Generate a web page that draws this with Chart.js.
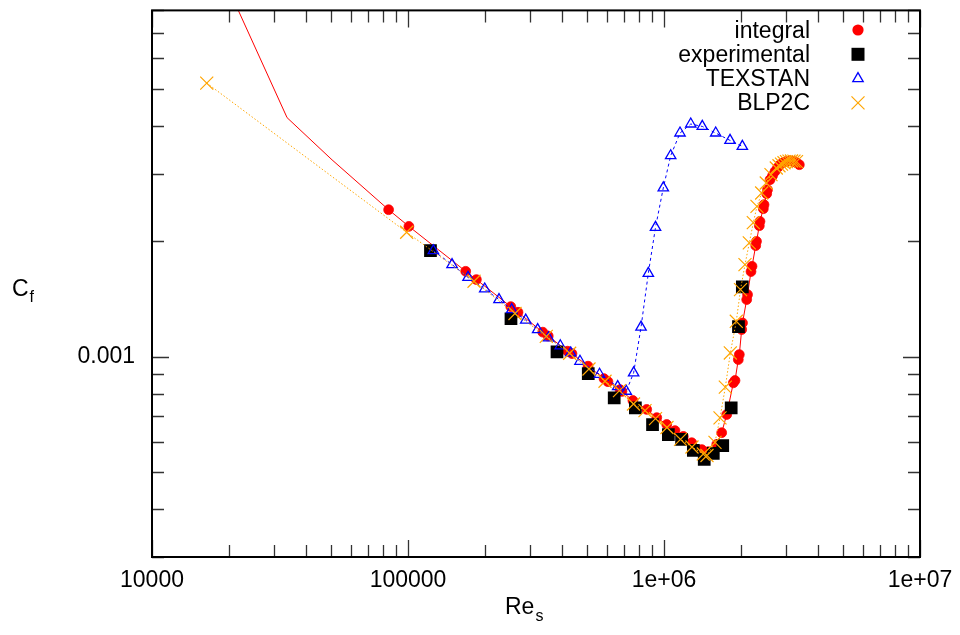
<!DOCTYPE html>
<html>
<head>
<meta charset="utf-8">
<title>Skin friction coefficient vs. Re_s</title>
<script src="https://cdn.jsdelivr.net/npm/chart.js@4.4.1/dist/chart.umd.min.js"></script>
<style>
  html, body { margin: 0; padding: 0; background: #ffffff; }
  #wrap { width: 960px; height: 635px; }
  canvas { display: block; }
</style>
</head>
<body>
<div id="wrap"><canvas id="chart" width="960" height="635"></canvas></div>
<script>
// ---- axis ranges and labelled ticks ----
const xMin = 1e4, xMax = 1e7;
const yMin = 0.0003, yMax = 0.008;
const xTickValues = [1e4, 1e5, 1e6, 1e7];
const xTickLabels = ['10000', '100000', '1e+06', '1e+07'];
const yTickValues = [0.001];
const yTickLabels = ['0.001'];

// ---- series names (legend order) ----
const seriesNames = ['integral', 'experimental', 'TEXSTAN', 'BLP2C'];

// ---- integral method: leading curve vertices (line only) ----
const integralLeadRe = [16400, 33700, 50500];
const integralLeadCf = [0.0121, 0.0042, 0.00326];

// ---- integral method: marked points ----
const integralRe = [84000, 100800, 168000, 185000, 252000, 269000, 336000, 353000, 420000, 437000,
  505000, 583000, 604000, 673000, 685000, 756000, 856000, 937000, 1025000, 1104000,
  1190000, 1283000, 1404000, 1490000, 1607000, 1680000, 1758000, 1866000, 1894000, 1951000,
  1969000, 2011000, 2026000, 2104000, 2120000, 2187000, 2207000, 2282000, 2298000, 2357000,
  2371000, 2443000, 2459000, 2519000, 2537000, 2595000, 2654000, 2714000, 2776000, 2839000,
  2916000, 3016000, 3106000, 3200000, 3293000, 3378000];
const integralCf = [0.002416, 0.002186, 0.001669, 0.001588, 0.00135, 0.001305, 0.001158, 0.001131, 0.001033, 0.001018,
  0.000944, 0.000876, 0.00086, 0.00082, 0.000811, 0.000768, 0.000728, 0.000693, 0.000665, 0.000641,
  0.000619, 0.000596, 0.000572, 0.000565, 0.00059, 0.000633, 0.000706, 0.000854, 0.000866, 0.000982,
  0.001012, 0.001176, 0.001224, 0.001408, 0.001451, 0.001666, 0.00172, 0.001947, 0.001998, 0.002195,
  0.002253, 0.002431, 0.00249, 0.00266, 0.002725, 0.002893, 0.002963, 0.003041, 0.003109, 0.003166,
  0.003204, 0.003229, 0.003243, 0.003229, 0.003204, 0.003166];

// ---- experimental data ----
const expRe = [122400, 252500, 382000, 506000, 639000, 773000, 902000, 1040000, 1171000, 1302000,
  1436000, 1558000, 1696000, 1830000, 1954000, 2023000];
const expCf = [0.001889, 0.001255, 0.001029, 0.000903, 0.00078, 0.000735, 0.000664, 0.000626, 0.000608, 0.000569,
  0.000539, 0.000559, 0.000586, 0.000735, 0.001197, 0.001519];

// ---- TEXSTAN ----
const texRe = [125600, 148600, 171600, 199400, 226700, 254200, 288300, 321000, 353900, 393400,
  432000, 469700, 560000, 659400, 712200, 761000, 813400, 868500, 926500, 993700,
  1062000, 1155000, 1272000, 1411000, 1592000, 1811000, 2023000];
const texCf = [0.001889, 0.001738, 0.001609, 0.001501, 0.001408, 0.001326, 0.001245, 0.001176, 0.001119, 0.001067,
  0.001022, 0.000972, 0.000899, 0.000835, 0.000812, 0.000907, 0.001194, 0.001649, 0.002173, 0.002754,
  0.003342, 0.00383, 0.004043, 0.003985, 0.00383, 0.003664, 0.003534];

// ---- BLP2C ----
const blpRe = [16360, 98800, 181100, 261800, 346900, 428100, 509300, 588300, 670200, 760000,
  843000, 926500, 1027000, 1160000, 1286000, 1424000, 1472000, 1582000, 1655000, 1736000,
  1816000, 1916000, 1990000, 2072000, 2154000, 2233000, 2308000, 2407000, 2509000, 2618000,
  2746000, 2813000, 2877000, 2943000, 3009000, 3078000, 3148000, 3219000, 3293000];
const blpCf = [0.00517, 0.00211, 0.001572, 0.001295, 0.001129, 0.00102, 0.000928, 0.000862, 0.000815, 0.000752,
  0.000723, 0.000689, 0.000653, 0.000608, 0.000581, 0.000557, 0.000552, 0.000597, 0.000692, 0.000832,
  0.001022, 0.001236, 0.001495, 0.001738, 0.001979, 0.002236, 0.002465, 0.002671, 0.002836, 0.002982,
  0.003104, 0.003147, 0.003176, 0.003204, 0.003224, 0.003234, 0.003238, 0.003234, 0.003224];

// ---- styling ----
const FONT = "'Liberation Sans', Arial, Helvetica, sans-serif";
const RED = '#ff0000', BLUE = '#0000ff', ORANGE = '#ffa500', BLACK = '#000000';

const toPoints = (xs, ys) => xs.map((v, i) => ({ x: v, y: ys[i] }));
const integralAll = toPoints(integralLeadRe.concat(integralRe), integralLeadCf.concat(integralCf));

// log-scale tick positions 1..9 x 10^k inside [lo, hi]
function logTicks(lo, hi) {
  const out = [];
  for (let e = Math.floor(Math.log10(lo)); e <= Math.ceil(Math.log10(hi)); e++) {
    for (let m = 1; m <= 9; m++) {
      const v = m * Math.pow(10, e);
      if (v >= lo * (1 - 1e-9) && v <= hi * (1 + 1e-9)) out.push({ v, major: m === 1 });
    }
  }
  return out;
}

// frame, inward ticks on all four sides, tick labels, axis titles with subscripts, key
const decorations = {
  id: 'decorations',
  afterDraw(chart) {
    const { ctx, chartArea: a, scales } = chart;
    const sx = scales.x, sy = scales.y;
    ctx.save();

    // tick marks
    ctx.strokeStyle = '#333333';
    ctx.lineWidth = 1.3;
    ctx.beginPath();
    logTicks(xMin, xMax).forEach(t => {
      const px = Math.round(sx.getPixelForValue(t.v)) + 0.5;
      const len = t.major ? 17 : 12;
      ctx.moveTo(px, a.bottom); ctx.lineTo(px, a.bottom - len);
      ctx.moveTo(px, a.top); ctx.lineTo(px, a.top + len);
    });
    logTicks(yMin, yMax).forEach(t => {
      const py = Math.round(sy.getPixelForValue(t.v)) + 0.5;
      const len = t.major ? 17 : 12;
      ctx.moveTo(a.left, py); ctx.lineTo(a.left + len, py);
      ctx.moveTo(a.right, py); ctx.lineTo(a.right - len, py);
    });
    ctx.stroke();

    // frame
    ctx.strokeStyle = BLACK;
    ctx.lineWidth = 2;
    ctx.strokeRect(a.left, a.top, a.right - a.left, a.bottom - a.top);

    // tick labels
    ctx.fillStyle = BLACK;
    ctx.font = '23px ' + FONT;
    ctx.textBaseline = 'middle';
    ctx.textAlign = 'center';
    xTickValues.forEach((v, i) => {
      ctx.fillText(xTickLabels[i], sx.getPixelForValue(v), 581);
    });
    ctx.textAlign = 'right';
    yTickValues.forEach((v, i) => {
      ctx.fillText(yTickLabels[i], a.left - 17, sy.getPixelForValue(v));
    });

    // axis titles
    ctx.textAlign = 'left';
    ctx.textBaseline = 'alphabetic';
    ctx.font = '23px ' + FONT;
    ctx.fillText('C', 12, 296);
    const cw = ctx.measureText('C').width;
    ctx.font = '16px ' + FONT;
    ctx.fillText('f', 12 + cw + 1, 302);

    ctx.font = '23px ' + FONT;
    ctx.fillText('Re', 505, 614);
    const rw = ctx.measureText('Re').width;
    ctx.font = '16px ' + FONT;
    ctx.fillText('s', 505 + rw + 1, 621);

    // key
    const keyTextRight = 810, keySymX = 858, keyTop = 30, keyStep = 24.3;
    ctx.font = '23px ' + FONT;
    ctx.textAlign = 'right';
    seriesNames.forEach((name, i) => {
      const cy = keyTop + i * keyStep;
      ctx.fillStyle = BLACK;
      ctx.fillText(name, keyTextRight, cy + 7.5);
      ctx.beginPath();
      if (i === 0) {
        ctx.fillStyle = RED;
        ctx.arc(keySymX, cy, 5.6, 0, Math.PI * 2);
        ctx.fill();
      } else if (i === 1) {
        ctx.fillStyle = BLACK;
        ctx.fillRect(keySymX - 6.5, cy - 6.5, 13, 13);
      } else if (i === 2) {
        const r = 6;
        ctx.strokeStyle = BLUE; ctx.lineWidth = 1.3;
        ctx.moveTo(keySymX, cy - r);
        ctx.lineTo(keySymX + r * Math.sin(2 * Math.PI / 3), cy - r * Math.cos(2 * Math.PI / 3));
        ctx.lineTo(keySymX + r * Math.sin(4 * Math.PI / 3), cy - r * Math.cos(4 * Math.PI / 3));
        ctx.closePath();
        ctx.stroke();
      } else {
        const h = 6.5;
        ctx.strokeStyle = ORANGE; ctx.lineWidth = 1.2;
        ctx.moveTo(keySymX - h, cy - h); ctx.lineTo(keySymX + h, cy + h);
        ctx.moveTo(keySymX - h, cy + h); ctx.lineTo(keySymX + h, cy - h);
        ctx.stroke();
      }
    });
    ctx.restore();
  }
};

const lead = integralLeadRe.length;

new Chart(document.getElementById('chart'), {
  type: 'scatter',
  data: {
    datasets: [
      {
        label: seriesNames[3],
        data: toPoints(blpRe, blpCf),
        showLine: true,
        borderColor: ORANGE,
        borderWidth: 1,
        borderDash: [1.5, 2],
        pointStyle: 'crossRot',
        pointRadius: 9.2,
        pointBorderWidth: 1.2,
        pointBorderColor: ORANGE,
        pointBackgroundColor: ORANGE,
        order: 1
      },
      {
        label: seriesNames[2],
        data: toPoints(texRe, texCf),
        showLine: true,
        borderColor: BLUE,
        borderWidth: 1,
        borderDash: [3, 3],
        pointStyle: 'triangle',
        pointRadius: 6,
        pointBorderWidth: 1.3,
        pointBorderColor: BLUE,
        pointBackgroundColor: 'rgba(0,0,0,0)',
        order: 2
      },
      {
        label: seriesNames[1],
        data: toPoints(expRe, expCf),
        showLine: false,
        pointStyle: 'rect',
        pointRadius: 9,
        pointBorderWidth: 0,
        pointBorderColor: BLACK,
        pointBackgroundColor: BLACK,
        order: 3
      },
      {
        label: seriesNames[0],
        data: integralAll,
        showLine: true,
        borderColor: RED,
        borderWidth: 1,
        pointStyle: 'circle',
        pointRadius: (c) => (c.dataIndex < lead ? 0 : 4.9),
        pointBorderWidth: 0.8,
        pointBorderColor: RED,
        pointBackgroundColor: RED,
        order: 4
      }
    ]
  },
  options: {
    responsive: false,
    animation: false,
    devicePixelRatio: 1,
    events: [],
    layout: { padding: { top: 10, right: 40, bottom: 0, left: 0 } },
    plugins: { legend: { display: false }, tooltip: { enabled: false } },
    elements: { point: { hoverRadius: 0 } },
    scales: {
      x: {
        type: 'logarithmic',
        position: 'bottom',
        min: xMin, max: xMax,
        border: { display: false },
        grid: { display: false, drawTicks: false },
        afterBuildTicks: (s) => { s.ticks = xTickValues.map(v => ({ value: v })); },
        afterFit: (s) => { s.height = 78; },
        ticks: { display: false }
      },
      y: {
        type: 'logarithmic',
        position: 'left',
        min: yMin, max: yMax,
        border: { display: false },
        grid: { display: false, drawTicks: false },
        afterBuildTicks: (s) => { s.ticks = yTickValues.map(v => ({ value: v })); },
        afterFit: (s) => { s.width = 152; },
        ticks: { display: false }
      }
    }
  },
  plugins: [decorations]
});
</script>
</body>
</html>
